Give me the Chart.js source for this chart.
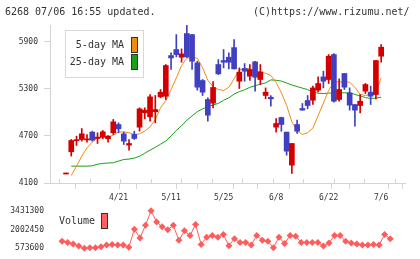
<!DOCTYPE html>
<html><head><meta charset="utf-8">
<script src="https://cdn.jsdelivr.net/npm/chart.js@4.4.0/dist/chart.umd.min.js"></script>
<style>
html,body{margin:0;padding:0;background:#fff;width:420px;height:259px;overflow:hidden;}
#wrap{position:relative;width:420px;height:259px;}
.t{position:absolute;top:6px;font:10px "DejaVu Sans Mono",monospace;line-height:12px;color:#333;white-space:pre;}
#c1{position:absolute;left:0;top:0;}
#c2{position:absolute;left:0;top:200px;}
</style></head><body>
<div id="wrap">
<canvas id="c1" width="420" height="210"></canvas>
<canvas id="c2" width="420" height="59"></canvas>
<div class="t" style="left:5px">6268 07/06 16:55 updated.</div>
<div class="t" style="left:253px">(C)https://www.rizumu.net/</div>
</div>
<script>
// ---- categories (trading days) ----
const dates = ['4/7','4/8','4/11','4/12','4/13','4/14','4/15','4/18','4/19','4/20',
  '4/21','4/22','4/25','4/26','4/27','4/28','5/2','5/6','5/9','5/10',
  '5/11','5/12','5/13','5/16','5/17','5/18','5/19','5/20','5/23','5/24',
  '5/25','5/26','5/27','5/30','5/31','6/1','6/2','6/3','6/6','6/7',
  '6/8','6/9','6/10','6/13','6/14','6/15','6/16','6/17','6/20','6/21',
  '6/22','6/23','6/24','6/27','6/28','6/29','6/30','7/1','7/4','7/5','7/6'];
// ---- price series ----
const open = [4215,4498,4640,4655,4650,4749,4668,4685,4664,4740,
  4846,4727,4583,4719,4812,4995,4944,5008,5199,5207,
  5725,5802,5704,6006,5993,5632,5407,5165,5118,5611,
  5662,5704,5827,5398,5560,5462,5645,5420,5216,5194,
  4812,4935,4749,4328,4846,5050,5152,5156,5284,5453,
  5420,5738,5165,5496,5250,5101,5088,5271,5258,5228,5717];
const high = [4222,4655,4698,4795,4719,4761,4740,4770,4706,4910,
  4867,4749,4655,4761,5059,5059,5228,5216,5292,5611,
  5759,5993,5810,6110,5993,5653,5420,5186,5394,5674,
  5802,5759,5929,5569,5623,5611,5653,5611,5313,5216,
  4923,4940,4749,4604,4901,5114,5216,5335,5453,5526,
  5738,5751,5428,5496,5313,5101,5228,5369,5335,5662,5865];
const low = [4215,4443,4579,4634,4621,4634,4604,4664,4621,4719,
  4740,4591,4519,4655,4761,4918,4889,4867,5186,5165,
  5547,5708,5640,5700,5547,5284,5216,4889,5059,5483,
  5568,5555,5555,5305,5398,5407,5271,5356,5173,5080,
  4748,4760,4455,4222,4732,5029,5046,5101,5262,5313,
  5369,5131,5143,5292,5029,4825,4995,5241,5101,5173,5640];
const close = [4220,4642,4645,4727,4655,4647,4685,4753,4698,4880,
  4791,4634,4604,4668,5046,5029,5199,5037,5258,5598,
  5695,5738,5747,5708,5653,5322,5258,4965,5318,5492,
  5640,5640,5555,5513,5526,5547,5449,5517,5258,5173,
  4859,4846,4506,4604,4761,5029,5088,5313,5369,5398,
  5717,5143,5292,5322,5093,5029,5143,5356,5207,5662,5832];
const ma5 = [null,4196,4315,4443,4549,4621,4676,4685,4685,4710,
  4749,4753,4740,4719,4727,4761,4816,4910,5060,5150,
  5290,5440,5600,5690,5709,5690,5570,5410,5325,5292,
  5280,5320,5430,5540,5565,5556,5530,5513,5500,5470,
  5380,5250,5090,4880,4765,4720,4740,4800,4960,5120,
  5280,5385,5390,5388,5385,5320,5229,5216,5229,5260,5440];
const ma25 = [null,4315,4315,4315,4315,4320,4340,4350,4355,4358,
  4380,4400,4405,4418,4440,4480,4520,4555,4595,4635,
  4700,4770,4830,4900,4955,5010,5045,5075,5095,5115,
  5155,5186,5235,5265,5290,5320,5340,5360,5377,5415,
  5410,5400,5375,5350,5330,5310,5292,5260,5245,5241,
  5245,5250,5250,5250,5248,5230,5210,5190,5178,5182,5194];
const volume = [null,1104000,1010000,886000,741000,573600,617000,617000,690000,813000,
  864000,813000,813000,646000,2028000,1344000,2319000,3431300,2580000,2217000,
  1977000,2319000,1177000,1904000,1540000,2391000,864000,1417000,1540000,1417000,
  1613000,762000,1300000,1010000,1010000,813000,1540000,1177000,1104000,617000,
  1417000,937000,1540000,1490000,1010000,1010000,1010000,1010000,741000,980000,
  1540000,1540000,1104000,980000,886000,813000,813000,864000,813000,1613000,1300000];
// ---- tick labels ----
const xTickLabels = ['4/21','5/11','5/25','6/8','6/22','7/6'];
const priceTicks = [4100,4700,5300,5900];
const volumeTicks = [573600,2002450,3431300];
const seriesNames = ['5-day MA','25-day MA'];
const volumeName = 'Volume';

const RED='#d40000', BLUE='#4040c0', ORANGE='#f08c10', GREEN='#18a018', VOL='#ff5c5c', GRID='#d4d4d4', TXT='#333';
const MONO='"DejaVu Sans Mono", monospace';
const FONT8={family:MONO,size:8};
const XMIN=-1.17, XMAX=62.66;
const gridVals=[]; for(let k=0;k<=11;k++) gridVals.push(XMIN+k*(XMAX-XMIN)/11);
const labelIdx = xTickLabels.map(l=>dates.indexOf(l));
const xTickVals = gridVals.concat(labelIdx).sort((a,b)=>a-b);
const pts = arr => arr.map((v,i)=>({x:i,y:v}));
const col = i => close[i] >= open[i] ? RED : BLUE;

const legendBox = {id:'legendBox', afterDraw(chart){
  const c=chart.ctx; c.save();
  c.fillStyle='#fff'; c.fillRect(65,30,78,47);
  c.strokeStyle='#d8d8d8'; c.lineWidth=1; c.strokeRect(65.5,30.5,78,47);
  c.font='10px '+MONO; c.fillStyle=TXT; c.textAlign='right'; c.textBaseline='middle';
  c.fillText(seriesNames[0],124,45.5); c.fillText(seriesNames[1],124,62.5);
  c.fillStyle=ORANGE; c.fillRect(131,37,7,16); c.fillStyle=GREEN; c.fillRect(131,54,7,16);
  c.strokeStyle='#333'; c.strokeRect(131.5,37.5,6,15); c.strokeRect(131.5,54.5,6,15);
  c.restore();
}};
const upTicks = {id:'upTicks', afterDraw(chart){
  const c=chart.ctx, xs=chart.scales.x, b=chart.chartArea.bottom; c.save();
  c.strokeStyle=GRID; c.lineWidth=1; c.beginPath();
  gridVals.forEach(v=>{const p=Math.round(xs.getPixelForValue(v)-0.5)+0.5; c.moveTo(p,b-4); c.lineTo(p,b);});
  c.stroke(); c.restore();
}};

new Chart(document.getElementById('c1'), {
  type:'bar',
  data:{datasets:[
    {type:'bar', label:'wick', data:dates.map((d,i)=>({x:i,y:[low[i],high[i]]})), barThickness:1, minBarLength:1,
      backgroundColor:c=>col(c.dataIndex), borderWidth:0, grouped:false, order:1},
    {type:'bar', label:'body', data:dates.map((d,i)=>({x:i,y:[open[i],close[i]]})), barThickness:5, minBarLength:1,
      backgroundColor:c=>col(c.dataIndex), borderWidth:0, grouped:false, order:0},
    {type:'line', label:seriesNames[0], data:pts(ma5), borderColor:ORANGE, borderWidth:1, pointRadius:0, tension:0, order:2},
    {type:'line', label:seriesNames[1], data:pts(ma25), borderColor:GREEN, borderWidth:1, pointRadius:0, tension:0, order:3}
  ]},
  options:{responsive:false, animation:false, events:[],
    layout:{padding:{top:25,right:15,left:0,bottom:0}},
    plugins:{legend:{display:false}, tooltip:{enabled:false}},
    scales:{
      x:{type:'linear', min:XMIN, max:XMAX,
        afterBuildTicks:s=>{s.ticks=xTickVals.map(v=>({value:v}));},
        afterFit:s=>{s.height=27;},
        grid:{drawOnChartArea:false, drawTicks:true, tickLength:6, lineWidth:1,
          color:c=>(c.tick && Number.isInteger(c.tick.value)) ? 'rgba(0,0,0,0)' : GRID},
        border:{display:true, color:GRID},
        ticks:{autoSkip:false, maxRotation:0, minRotation:0, padding:4, font:FONT8, color:TXT,
          callback:v=>{const k=labelIdx.indexOf(v); return k>=0 ? xTickLabels[k] : '';}}},
      y:{type:'linear', min:4100, max:6115,
        afterBuildTicks:s=>{s.ticks=priceTicks.map(v=>({value:v}));},
        afterFit:s=>{s.width=50;},
        grid:{drawOnChartArea:false, tickLength:6, color:GRID},
        border:{display:true, color:GRID},
        ticks:{font:FONT8, color:TXT, padding:6, callback:v=>String(v)}}
    }},
  plugins:[legendBox, upTicks]
});

const volLegend = {id:'volLegend', afterDraw(chart){
  const c=chart.ctx; c.save();
  c.font='10px '+MONO; c.fillStyle=TXT; c.textAlign='left'; c.textBaseline='middle';
  c.fillText(volumeName,59,21.5);
  c.fillStyle='#ff6060'; c.fillRect(101,13,7,16);
  c.strokeStyle='#333'; c.lineWidth=1; c.strokeRect(101.5,13.5,6,15);
  c.restore();
}};

new Chart(document.getElementById('c2'), {
  type:'line',
  data:{datasets:[{label:volumeName, data:pts(volume), borderColor:VOL, backgroundColor:VOL, borderWidth:1,
    pointStyle:'rectRot', pointRadius:3.5, pointBorderWidth:0, pointBackgroundColor:VOL, tension:0, clip:false}]},
  options:{responsive:false, animation:false, events:[],
    layout:{padding:{top:9,right:15,left:0,bottom:10.7}},
    plugins:{legend:{display:false}, tooltip:{enabled:false}},
    scales:{
      x:{type:'linear', min:XMIN, max:XMAX, display:false},
      y:{type:'linear', min:573600, max:3431300,
        afterBuildTicks:s=>{s.ticks=volumeTicks.map(v=>({value:v}));},
        afterFit:s=>{s.width=50;},
        grid:{display:false, drawTicks:false},
        border:{display:false},
        ticks:{font:FONT8, color:TXT, padding:6, callback:v=>String(v)}}
    }},
  plugins:[volLegend]
});
</script>
</body></html>
